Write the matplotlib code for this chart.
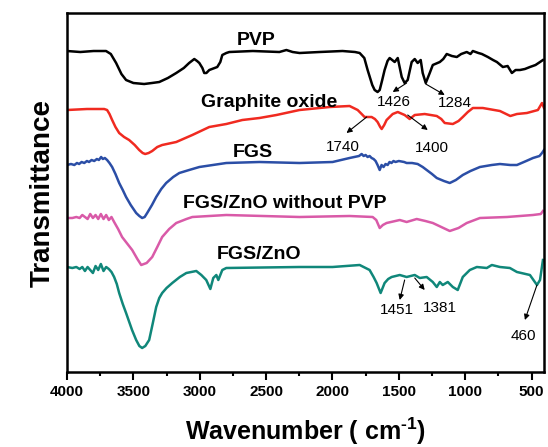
import matplotlib
matplotlib.use("Agg")
import matplotlib.pyplot as plt

plt.rcParams['font.family'] = ['Liberation Sans', 'DejaVu Sans']
plt.rcParams['mathtext.fontset'] = 'custom'
plt.rcParams['mathtext.rm'] = 'Liberation Sans:bold'

# FTIR spectra (wavenumber, transmittance in arbitrary offset units)
pvp_wn = [4000, 3900, 3800, 3706, 3670, 3630, 3590, 3555, 3500, 3419, 3360, 3305, 3240, 3177,
          3120, 3080, 3041, 3020, 3003, 2980, 2966, 2950, 2928, 2868, 2845, 2830, 2800,
          2777, 2600, 2400, 2347, 2300, 2248, 2097, 1924, 1830, 1795, 1760, 1735, 1700,
          1682, 1660, 1644, 1625, 1607, 1585, 1569, 1531, 1508, 1478, 1456, 1433, 1403,
          1380, 1358, 1335, 1320, 1297, 1267, 1244, 1191, 1165, 1139, 1100, 1063, 1030,
          988, 960, 942, 900, 874, 829, 790, 761, 716, 680, 648, 620, 587, 550, 512, 470,
          436, 414]
pvp_t = [321, 320, 321, 321, 318, 309, 298, 292, 289, 288, 289, 290, 294, 299,
         304, 309, 313, 311, 309, 304, 299, 299, 302, 305, 310, 317, 319,
         320, 321, 320, 322, 320, 319, 320, 321, 320, 319, 314, 302, 287,
         282, 280, 282, 292, 302, 311, 314, 310, 314, 295, 289, 292, 310,
         313, 309, 312, 299, 289, 299, 307, 310, 313, 318, 316, 315, 318,
         320, 318, 321, 319, 318, 315, 312, 310, 305, 306, 299, 302, 302, 303, 305, 307,
         310, 312]

go_wn = [4000, 3850, 3720, 3698, 3680, 3660, 3635, 3607, 3570, 3532, 3490, 3456, 3430, 3411,
         3385, 3358, 3320, 3283, 3177, 3056, 2928, 2800, 2679, 2550, 2422, 2248, 2022,
         1871, 1810, 1780, 1758, 1705, 1680, 1660, 1640, 1629, 1610, 1592, 1546, 1508,
         1456, 1418, 1380, 1305, 1214, 1180, 1154, 1093, 1050, 1018, 980, 942, 867, 738,
         660, 610, 535, 452, 421, 406]
go_t = [262, 263, 263, 262, 258, 252, 245, 239, 235, 232, 227, 222, 219, 218,
        219, 221, 225, 227, 230, 237, 245, 248, 252, 254, 257, 262, 265,
        266, 262, 258, 255, 255, 253, 250, 245, 243, 247, 252, 258, 260,
        257, 253, 257, 258, 256, 253, 249, 248, 251, 255, 260, 264, 264, 261,
        256, 258, 259, 262, 269, 264]

fgs_wn = [4000, 3970, 3945, 3925, 3909, 3890, 3870, 3850, 3834, 3815, 3795, 3775, 3760, 3743,
          3730, 3715, 3698, 3680, 3660, 3635, 3607, 3580, 3555, 3520, 3479, 3455, 3434,
          3415, 3396, 3360, 3328, 3290, 3253, 3200, 3154, 3080, 3003, 2800, 2550, 2248,
          1999, 1871, 1800, 1780, 1765, 1750, 1735, 1720, 1705, 1690, 1675, 1660, 1644,
          1630, 1615, 1600, 1584, 1570, 1555, 1540, 1525, 1500, 1460, 1441, 1400, 1358,
          1320, 1290, 1250, 1214, 1160, 1116, 1070, 1018, 960, 889, 800, 738, 660, 610,
          540, 489, 440, 421, 406]
fgs_t = [207, 208, 207, 209, 208, 210, 209, 211, 210, 212, 211, 213, 212, 215,
         213, 214, 212, 209, 205, 198, 189, 182, 175, 167, 159, 156, 154,
         155, 159, 167, 175, 183, 189, 195, 199, 202, 205, 209, 210, 209,
         210, 214, 216, 218, 216, 217, 215, 216, 214, 213, 211, 207, 202,
         207, 205, 208, 207, 210, 209, 211, 210, 211, 210, 209, 209, 208,
         205, 202, 198, 194, 191, 189, 192, 197, 201, 205, 207, 208, 207, 207,
         211, 214, 216, 219, 222]

fz_wn = [4000, 3960, 3930, 3905, 3885, 3865, 3845, 3825, 3805, 3785, 3765, 3745, 3725, 3705,
         3685, 3665, 3645, 3615, 3585, 3550, 3509, 3470, 3441, 3400, 3358, 3320, 3283, 3230,
         3177, 3100, 3056, 2800, 2248, 1871, 1697, 1670, 1644, 1620, 1592, 1493, 1441, 1365,
         1300, 1244, 1180, 1116, 1050, 988, 889, 685, 489, 430, 414]
fz_t = [154, 154, 155, 154, 157, 155, 153, 158, 154, 157, 153, 158, 153, 157,
        152, 155, 150, 143, 135, 129, 122, 113, 107, 109, 115, 125, 135, 143,
        149, 153, 155, 157, 155, 156, 155, 152, 144, 147, 149, 152, 150, 153,
        151, 149, 145, 141, 144, 149, 154, 155, 157, 158, 161]

zno_wn = [4000, 3960, 3930, 3905, 3885, 3865, 3845, 3825, 3805, 3785, 3765, 3745, 3725, 3705,
          3685, 3665, 3645, 3625, 3607, 3580, 3555, 3510, 3479, 3455, 3434, 3410, 3381, 3355,
          3328, 3305, 3283, 3250, 3207, 3150, 3101, 3026, 2988, 2951, 2920, 2898, 2875,
          2860, 2830, 2800, 2248, 1999, 1795, 1720, 1690, 1667, 1637, 1607, 1580, 1554,
          1493, 1441, 1380, 1342, 1290, 1244, 1214, 1191, 1169, 1131, 1093, 1056, 1018,
          965, 912, 837, 799, 738, 663, 610, 512, 459, 436, 414]
zno_t = [105, 104, 105, 103, 105, 101, 105, 102, 99, 106, 102, 108, 101, 105,
         103, 100, 95, 88, 79, 68, 59, 42, 32, 26, 24, 26, 32, 48,
         65, 74, 79, 84, 89, 95, 99, 101, 97, 92, 83, 94, 97,
         92, 102, 104, 105, 105, 107, 102, 95, 89, 79, 89, 93, 95,
         97, 95, 97, 94, 95, 90, 85, 90, 87, 90, 85, 82, 95,
         102, 105, 104, 107, 105, 104, 100, 97, 87, 92, 112]

names = ['PVP', 'Graphite oxide', 'FGS', 'FGS/ZnO without PVP', 'FGS/ZnO']
colors = ['black', '#f02a20', '#2b4ea6', '#d95aa8', '#10877a']
name_pos = [(2573, 332), (2475, 270), (2603, 220), (2362, 169), (2550, 117)]

# peak labels: text, text position, arrow start (peak), arrow end
peaks = [('1426', (1539, 270), (1441, 289), (1546, 280)),
         ('1284', (1078, 269), (1297, 288), (1154, 277)),
         ('1740', (1924, 225), (1742, 255), (1894, 239)),
         ('1400', (1252, 224), (1433, 257), (1282, 242)),
         ('1451', (1516, 62), (1456, 92), (1493, 72)),
         ('1381', (1191, 64), (1380, 94), (1305, 82)),
         ('460', (565, 36), (459, 87), (550, 52))]

fig = plt.figure(figsize=(5.48, 4.47), dpi=100)
ax = fig.add_axes([0.1223, 0.1678, 0.8704, 0.8031])

series = [(pvp_wn, pvp_t), (go_wn, go_t), (fgs_wn, fgs_t), (fz_wn, fz_t), (zno_wn, zno_t)]
for (wn, t), c in zip(series, colors):
    ax.plot(wn, t, color=c, lw=1.8, solid_joinstyle='round')

for n, (x, y) in zip(names, name_pos):
    ax.text(x, y, n, fontsize=14, fontweight='bold', ha='center', va='center')

for lab, tpos, start, end in peaks:
    ax.annotate('', xy=end, xytext=start,
                arrowprops=dict(arrowstyle='-|>', color='black', lw=0.8,
                                mutation_scale=8, shrinkA=0, shrinkB=0))
    ax.text(tpos[0], tpos[1], lab, fontsize=11, ha='center', va='center')

ax.set_xlim(4000, 406)
ax.set_ylim(0, 359)
ax.set_xticks([4000, 3500, 3000, 2500, 2000, 1500, 1000, 500])
ax.set_xticks([3750, 3250, 2750, 2250, 1750, 1250, 750], minor=True)
ax.set_yticks([])
ax.tick_params(axis='x', which='major', direction='out', length=6, width=1.5,
               labelsize=11)
ax.tick_params(axis='x', which='minor', direction='out', length=3, width=1.5)
for lbl in ax.get_xticklabels():
    lbl.set_fontweight('bold')
for sp in ax.spines.values():
    sp.set_linewidth(1.8)

ax.set_xlabel('Wavenumber ( cm$^{\\text{-1}}$)', fontsize=18, fontweight='bold', labelpad=12)
ax.set_ylabel('Transmittance', fontsize=20, fontweight='bold', labelpad=8)

plt.savefig('out.png', dpi=100)
